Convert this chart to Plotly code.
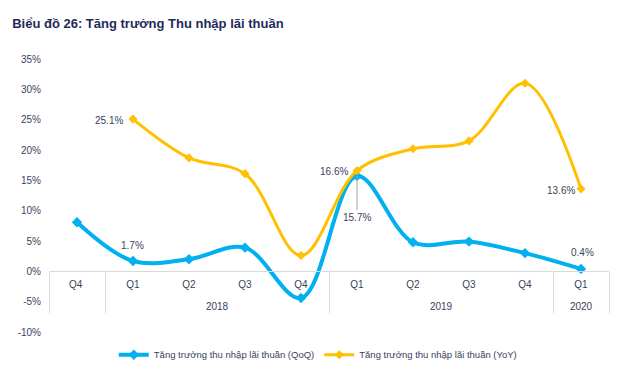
import plotly.graph_objects as go

quarters = ["Q4 ", "Q1", "Q2", "Q3", "Q4", "Q1", "Q2", "Q3", "Q4", "Q1"]
years = [" ", "2018", "2018", "2018", "2018", "2019", "2019", "2019", "2019", "2020"]
qoq = [8.1, 1.7, 2.0, 3.9, -4.4, 15.7, 4.8, 4.9, 3.0, 0.4]
yoy = [None, 25.1, 18.7, 16.1, 2.6, 16.6, 20.2, 21.5, 31.0, 13.6]
y_ticks = [35, 30, 25, 20, 15, 10, 5, 0, -5, -10]

BLUE = "#00B0F0"
GOLD = "#FFC000"
TXT = "#3A3F5C"
FONT = "Liberation Sans, Arial, sans-serif"

x = [years, quarters]
# display years one line lower (extra spacing under quarter labels)
years_disp = [("<br>" + y) for y in years]
x_disp = [years_disp, quarters]

fig = go.Figure()
fig.add_trace(go.Scatter(
    x=x_disp, y=qoq, mode="lines+markers", name="Tăng trưởng thu nhập lãi thuần (QoQ)",
    line=dict(color=BLUE, width=4, shape="spline", smoothing=1.0),
    marker=dict(symbol="diamond", size=8, color=BLUE),
))
fig.add_trace(go.Scatter(
    x=x_disp, y=yoy, mode="lines+markers", name="Tăng trưởng thu nhập lãi thuần (YoY)",
    line=dict(color=GOLD, width=3, shape="spline", smoothing=1.0),
    marker=dict(symbol="diamond", size=7, color=GOLD),
))

def lbl(i, val, series, xs=0, ys=0, arrow=False, ay=0):
    d = dict(x=[years_disp[i], quarters[i]], y=series[i], text=f"{val:.1f}%",
             font=dict(family=FONT, size=10, color=TXT), xshift=xs, yshift=ys)
    if arrow:
        d.update(showarrow=True, arrowhead=0, arrowcolor="#A6A6A6", arrowwidth=1,
                 ax=0, ay=ay, standoff=0)
    else:
        d.update(showarrow=False)
    fig.add_annotation(**d)

lbl(1, yoy[1], yoy, xs=-24, ys=-1)
lbl(1, qoq[1], qoq, xs=-1, ys=16)
lbl(5, yoy[5], yoy, xs=-23, ys=-1)
lbl(5, qoq[5], qoq, arrow=True, ay=41)
lbl(9, yoy[9], yoy, xs=-20, ys=-2)
lbl(9, qoq[9], qoq, xs=1, ys=16)

fig.update_layout(
    width=640, height=385,
    margin=dict(l=49, r=31, t=59, b=53),
    plot_bgcolor="white", paper_bgcolor="white",
    font=dict(family=FONT, size=10, color=TXT),
    title=dict(text="<b>Biểu đồ 26: Tăng trưởng Thu nhập lãi thuần</b>",
               x=0.019, xanchor="left", y=0.94, yanchor="middle",
               font=dict(family=FONT, size=13, color="#1F2A5C")),
    showlegend=True,
    legend=dict(orientation="h", x=0.48, xanchor="center", y=-0.03, yanchor="top",
                font=dict(family=FONT, size=9.5, color=TXT),
                tracegroupgap=0),
    xaxis=dict(
        type="multicategory", anchor="free", position=10 / 45,
        range=[-0.5, 9.5], showgrid=False, showline=True, linecolor="#D9D9D9",
        linewidth=1, ticks="", showdividers=True, dividercolor="#D9D9D9",
        dividerwidth=1, tickfont=dict(family=FONT, size=10, color=TXT),
        zeroline=False, ticklabelstandoff=4,
    ),
    yaxis=dict(
        range=[-10, 35], tickvals=y_ticks, ticktext=[f"{v}%" for v in y_ticks],
        showgrid=False, zeroline=False, showline=False, ticks="",
        tickfont=dict(family=FONT, size=10, color=TXT), ticklabelstandoff=7,
    ),
)

fig.write_html("out.html", post_script="document.body.style.margin='0';",
               config={"displayModeBar": False})
